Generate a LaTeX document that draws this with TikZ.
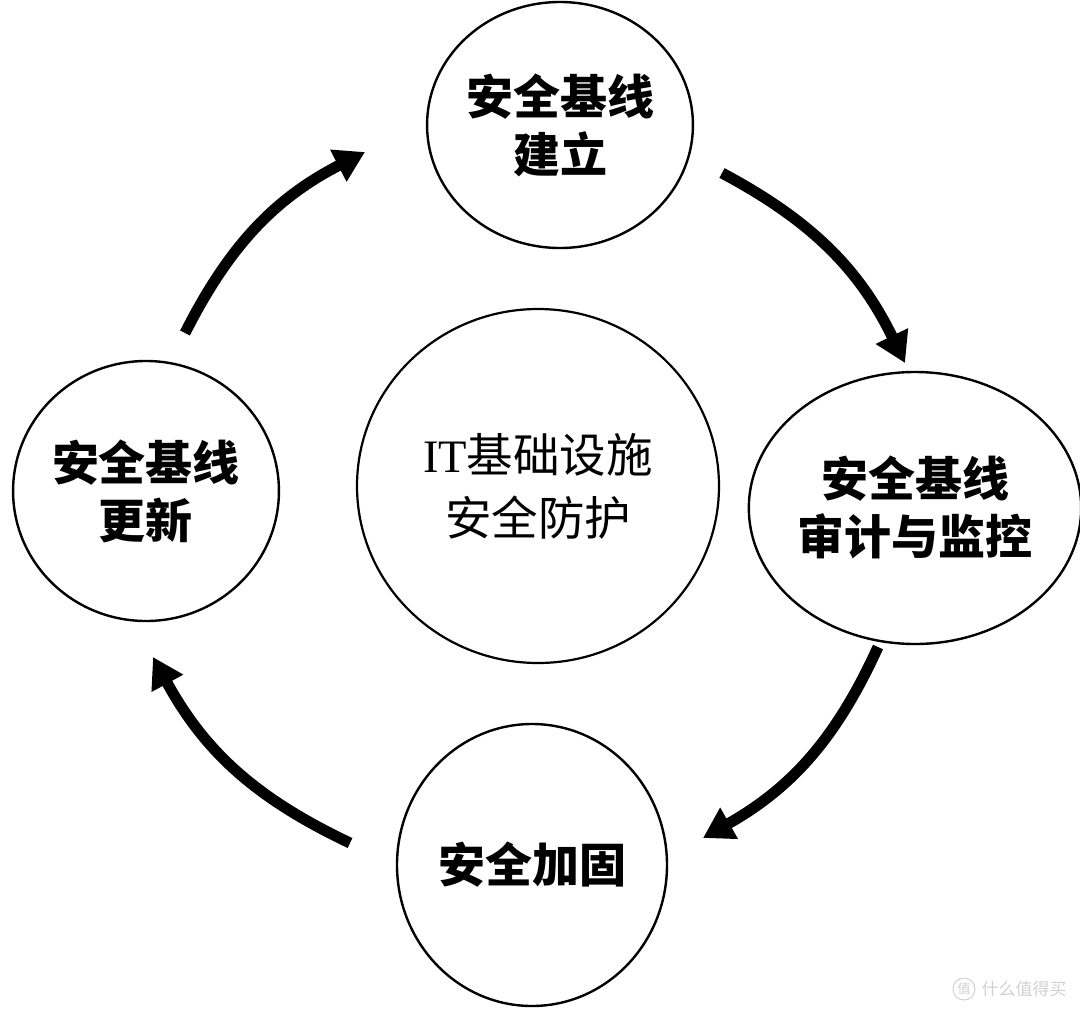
\documentclass[tikz,border=0pt]{standalone}
\usepackage{fontspec}
\setmainfont{Liberation Serif}
\newfontfamily\cjk{Noto Sans CJK SC}
\usetikzlibrary{shapes.geometric,arrows.meta}
\tikzset{
  stage/.style={draw, ellipse, line width=2.4pt, inner sep=0pt, align=center,
    font=\cjk\bfseries\fontsize{47}{58}\selectfont},
  hub/.style={draw, ellipse, line width=2.2pt, inner sep=0pt, align=center,
    font=\cjk\fontsize{46.5}{63}\selectfont},
  flow/.style={line width=11pt, -{Triangle[length=30pt,width=34pt]}, bend left=18},
  wmark/.style={text=black!18, font=\cjk\fontsize{17}{17}\selectfont}
}
\begin{document}
\begin{tikzpicture}[x=1pt,y=-1pt]
\useasboundingbox (0,0) rectangle (1080,1010);
\fill[white] (0,0) rectangle (1080,1010);

\node[stage, minimum width=256pt, minimum height=246pt] (build) at (560,125) {安全基线\\建立};
\node[stage, minimum width=292pt, minimum height=272pt] (audit) at (915,508) {安全基线\\审计与监控};
\node[stage, minimum width=270pt, minimum height=282pt] (harden) at (532,865) {安全加固};
\node[stage, minimum width=262pt, minimum height=260pt] (update) at (146,491) {安全基线\\更新};
\node[hub, minimum width=362pt, minimum height=354pt] (core) at (538,486) {{\fontspec{Liberation Serif}IT}基础设施\\安全防护};

\coordinate (a1s) at (722,173); \coordinate (a1e) at (905,363);
\coordinate (a2s) at (878,647); \coordinate (a2e) at (703,838);
\coordinate (a3s) at (350,843); \coordinate (a3e) at (153,657);
\coordinate (a4s) at (185,333); \coordinate (a4e) at (365,152);

\draw[flow] (a1s) to (a1e);
\draw[flow] (a2s) to (a2e);
\draw[flow] (a3s) to (a3e);
\draw[flow] (a4s) to (a4e);

\node[wmark, draw=black!18, circle, line width=1pt, minimum size=22pt, inner sep=0pt, font=\cjk\fontsize{13}{13}\selectfont] (wmlogo) at (964,989) {值};
\node[wmark, anchor=west] (wmtext) at (978,989) {什么值得买};
\end{tikzpicture}
\end{document}
